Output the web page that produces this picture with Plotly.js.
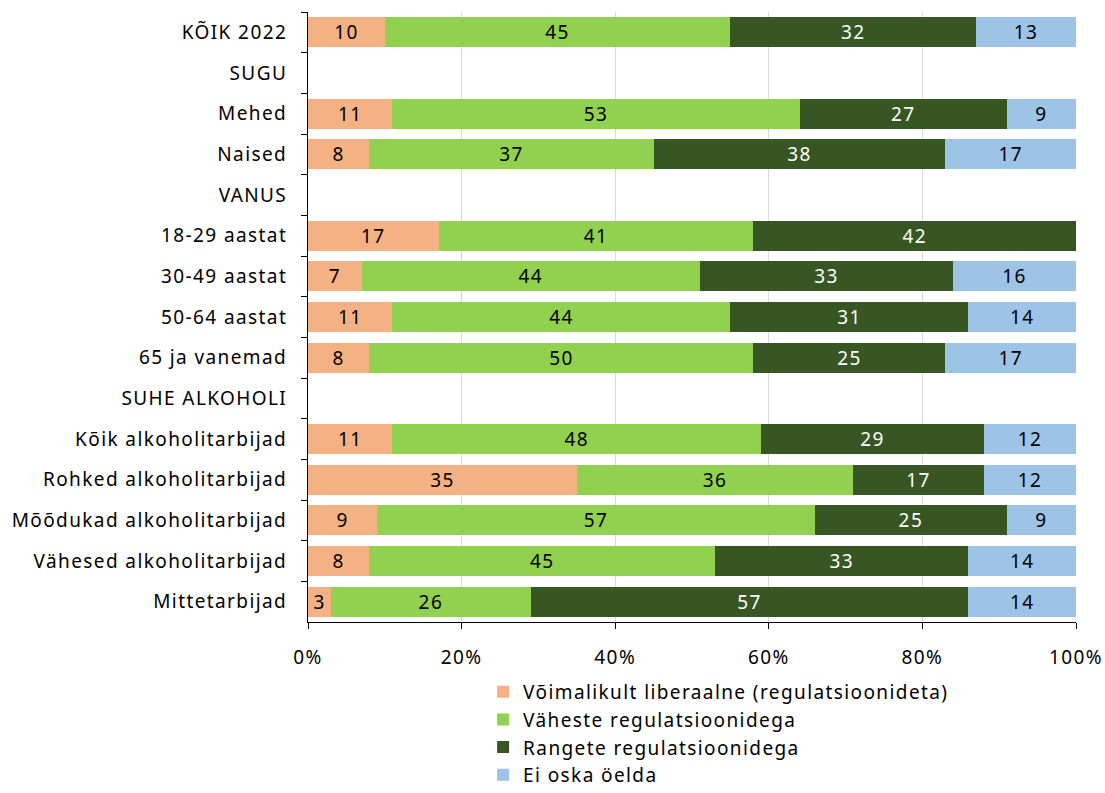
<!DOCTYPE html>
<html>
<head>
<meta charset="utf-8">
<script src="https://cdn.plot.ly/plotly-3.0.1.min.js"></script>
<style>html,body{margin:0;padding:0;background:#fff;}#chart{width:1105px;height:793px;}
text{letter-spacing:1.4px;}</style>
</head>
<body>
<div id="chart"></div>
<script>
const categories = ["KÕIK 2022","SUGU","Mehed","Naised","VANUS","18-29 aastat","30-49 aastat","50-64 aastat","65 ja vanemad","SUHE ALKOHOLI","Kõik alkoholitarbijad","Rohked alkoholitarbijad","Mõõdukad alkoholitarbijad","Vähesed alkoholitarbijad","Mittetarbijad"];
const seriesNames = ["Võimalikult liberaalne (regulatsioonideta)","Väheste regulatsioonidega","Rangete regulatsioonidega","Ei oska öelda"];
const liberaalne = [10,null,11,8,null,17,7,11,8,null,11,35,9,8,3];
const vaheste    = [45,null,53,37,null,41,44,44,50,null,48,36,57,45,26];
const rangete    = [32,null,27,38,null,42,33,31,25,null,29,17,25,33,57];
const eiOska     = [13,null,9,17,null,null,16,14,17,null,12,12,9,14,14];
const xTickVals = [0,20,40,60,80,100];
const xTickText = ["0%","20%","40%","60%","80%","100%"];

const FONT = "Noto Sans, sans-serif";
const colors = ["#F4B183","#92D050","#375623","#9DC3E6"];
const textColors = ["#000000","#000000","#FFFFFF","#000000"];
const allSeries = [liberaalne, vaheste, rangete, eiOska];

const traces = allSeries.map((vals, i) => ({
  type: "bar",
  orientation: "h",
  name: seriesNames[i],
  y: categories,
  x: vals,
  marker: {color: colors[i]},
  text: vals.map(v => v == null ? "" : String(v)),
  texttemplate: "%{text}",
  textposition: "inside",
  insidetextanchor: "middle",
  textangle: 0,
  constraintext: "none",
  textfont: {family: FONT, size: 19, color: textColors[i]},
  legendgroup: "g" + i,
  hoverinfo: "x+y+name"
}));

const layout = {
  width: 1105,
  height: 793,
  margin: {l: 308, r: 29, t: 12, b: 171, autoexpand: false},
  paper_bgcolor: "#ffffff",
  plot_bgcolor: "#ffffff",
  barmode: "stack",
  bargap: 0.27,
  font: {family: FONT, size: 19, color: "#000000"},
  showlegend: true,
  legend: {
    orientation: "v",
    x: 0.228, xanchor: "left",
    y: -0.0834, yanchor: "top",
    traceorder: "normal",
    tracegroupgap: 11,
    bgcolor: "rgba(0,0,0,0)",
    font: {family: FONT, size: 19, color: "#000000"},
    itemwidth: 30
  },
  xaxis: {
    range: [0, 100],
    tickvals: xTickVals,
    ticktext: xTickText,
    showgrid: true,
    gridcolor: "#D9D9D9",
    gridwidth: 1,
    zeroline: false,
    showline: true,
    linecolor: "#000000",
    linewidth: 1,
    ticks: "outside",
    ticklen: 6,
    tickcolor: "#000000",
    ticklabelstandoff: 12,
    tickfont: {family: FONT, size: 19, color: "#000000"},
    fixedrange: true
  },
  yaxis: {
    type: "category",
    categoryorder: "array",
    categoryarray: categories,
    autorange: "reversed",
    showline: true,
    linecolor: "#000000",
    linewidth: 1,
    ticks: "outside",
    tickson: "boundaries",
    ticklen: 6,
    tickcolor: "#000000",
    showgrid: false,
    ticklabelstandoff: 16,
    tickfont: {family: FONT, size: 19, color: "#000000"},
    fixedrange: true
  }
};

Plotly.newPlot("chart", traces, layout, {displayModeBar: false, staticPlot: true});
</script>
</body>
</html>
